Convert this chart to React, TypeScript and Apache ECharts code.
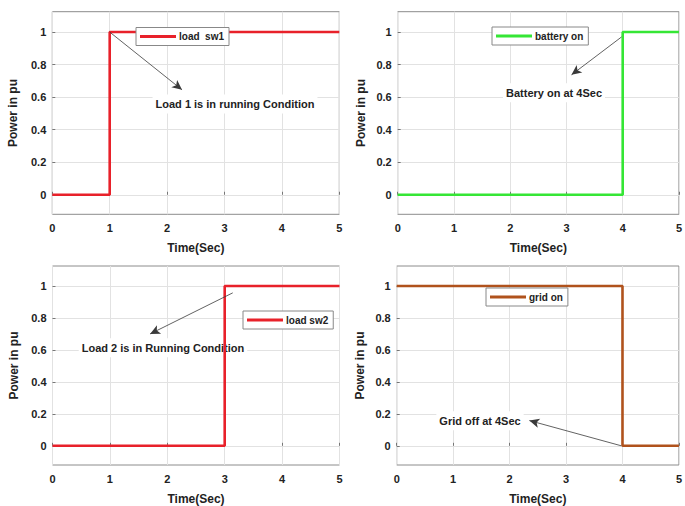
import React, { useEffect, useRef } from "react";
import * as echarts from "echarts";

// ---- data ----
const TIME_SW1 = [0, 1, 1, 5];
const VAL_SW1 = [0, 0, 1, 1];
const TIME_BAT = [0, 4, 4, 5];
const VAL_BAT = [0, 0, 1, 1];
const TIME_SW2 = [0, 3, 3, 5];
const VAL_SW2 = [0, 0, 1, 1];
const TIME_GRID = [0, 4, 4, 5];
const VAL_GRID = [1, 1, 0, 0];

const Y_TICKS = [0, 0.2, 0.4, 0.6, 0.8, 1];
const X_TICKS = [0, 1, 2, 3, 4, 5];

const NAMES = ["load  sw1", "battery on", "load sw2", "grid on"];
const ANNOTATIONS = [
  "Load 1 is in running Condition",
  "Battery on at 4Sec",
  "Load 2 is in Running Condition",
  "Grid off at 4Sec",
];
// arrows in data coords: [from, to]
const ARROWS: [number, number][][] = [
  [[1.0, 1.0], [2.26, 0.645]],
  [[3.98, 0.97], [3.09, 0.737]],
  [[3.14, 0.957], [1.7, 0.7]],
  [[3.98, 0.0], [2.35, 0.158]],
];

const zip = (xs: number[], ys: number[]) => xs.map((x, i) => [x, ys[i]]);

const FONT = "'Liberation Sans', Arial, sans-serif";
const COLORS = ["#e8212a", "#35e635", "#e8212a", "#b0521c"];

export default function App() {
  const ref = useRef<HTMLDivElement>(null);
  useEffect(() => {
    if (!ref.current) return;
    const chart = echarts.init(ref.current, null, { renderer: "svg" });
    const grids = [
      { left: 52.3, top: 11.7, width: 287, height: 202.6 },
      { left: 397.7, top: 11.7, width: 287, height: 202.6 },
      { left: 52.5, top: 266, width: 287, height: 202.5 },
      { left: 396.7, top: 266, width: 287, height: 203 },
    ];
    const yNameGap = [33, 31, 33, 31];
    const datasets = [
      zip(TIME_SW1, VAL_SW1),
      zip(TIME_BAT, VAL_BAT),
      zip(TIME_SW2, VAL_SW2),
      zip(TIME_GRID, VAL_GRID),
    ];
    const legendPos = [
      { left: 136, top: 27.5 },
      { left: 492, top: 27 },
      { left: 243, top: 311 },
      { left: 486, top: 288 },
    ];
    const textPos = [
      { x: 235, y: 104 },
      { x: 554, y: 92.7 },
      { x: 163, y: 347.7 },
      { x: 480, y: 420.7 },
    ];
    const option: any = {
      animation: false,
      backgroundColor: "#fff",
      grid: grids.map((g) => ({
        ...g,
        show: true,
        borderColor: "#8c8c8c",
        borderWidth: 1,
        backgroundColor: "#fff",
        containLabel: false,
      })),
      xAxis: grids.map((_, i) => ({
        type: "value",
        gridIndex: i,
        min: 0,
        max: 5,
        interval: 1,
        name: "Time(Sec)",
        nameLocation: "middle",
        nameGap: 28,
        nameTextStyle: { fontFamily: FONT, fontWeight: "bold", fontSize: 12, color: "#222" },
        axisLine: { show: false },
        axisTick: { show: true, inside: true, length: 3, lineStyle: { color: "#777" } },
        axisLabel: {
          margin: 8,
          fontFamily: FONT,
          fontWeight: "bold",
          fontSize: 11,
          color: "#222",
          customValues: X_TICKS,
        },
        splitLine: { show: true, lineStyle: { color: "#e2e2e2", width: 1 } },
      })),
      yAxis: grids.map((_, i) => ({
        type: "value",
        gridIndex: i,
        min: -0.12,
        max: 1.125,
        name: "Power in pu",
        nameLocation: "middle",
        nameRotate: 90,
        nameGap: yNameGap[i],
        nameTextStyle: { fontFamily: FONT, fontWeight: "bold", fontSize: 12, color: "#222" },
        axisLine: { show: false },
        axisTick: {
          show: true,
          inside: true,
          length: 3,
          lineStyle: { color: "#777" },
          customValues: Y_TICKS,
        },
        axisLabel: {
          margin: 6,
          fontFamily: FONT,
          fontWeight: "bold",
          fontSize: 11,
          color: "#222",
          customValues: Y_TICKS,
        },
        splitLine: { show: true, lineStyle: { color: "#e2e2e2", width: 1 } },
      })),
      legend: NAMES.map((n, i) => ({
        data: [{ name: n, icon: "rect" }],
        ...legendPos[i],
        orient: "horizontal",
        backgroundColor: "#fff",
        borderColor: "#888",
        borderWidth: 1,
        borderRadius: 0,
        padding: [4, 5, 4, 4],
        itemWidth: 36,
        itemHeight: 3,
        itemGap: 0,
        textStyle: { fontFamily: FONT, fontWeight: "bold", fontSize: 10, color: "#222", padding: [0, 0, 0, -2] },
      })),
      series: datasets.map((d, i) => ({
        type: "line",
        name: NAMES[i],
        xAxisIndex: i,
        yAxisIndex: i,
        data: d,
        symbol: "none",
        showSymbol: false,
        lineStyle: { color: COLORS[i], width: 2.6 },
        itemStyle: { color: COLORS[i] },
        z: 3,
        markLine: {
          silent: true,
          symbol: ["none", "arrow"],
          symbolSize: [7, 10],
          label: { show: false },
          lineStyle: { color: "#3a3a3a", width: 0.8, type: "solid" },
          emphasis: { disabled: true },
          data: [[{ coord: ARROWS[i][0] }, { coord: ARROWS[i][1] }]],
        },
      })),
      graphic: ANNOTATIONS.map((t, i) => ({
        type: "text",
        x: textPos[i].x,
        y: textPos[i].y,
        z: 1,
        style: {
          text: t,
          fontFamily: FONT,
          fontWeight: "bold",
          fontSize: 11,
          fill: "#222",
          align: "center",
          verticalAlign: "middle",
          backgroundColor: "#fff",
          padding: [4, 3, 4, 3],
        },
      })),
    };
    chart.setOption(option);
    return () => chart.dispose();
  }, []);
  return (
    <div
      ref={ref}
      style={{ position: "absolute", left: 0, top: 0, width: 685, height: 506 }}
    />
  );
}
